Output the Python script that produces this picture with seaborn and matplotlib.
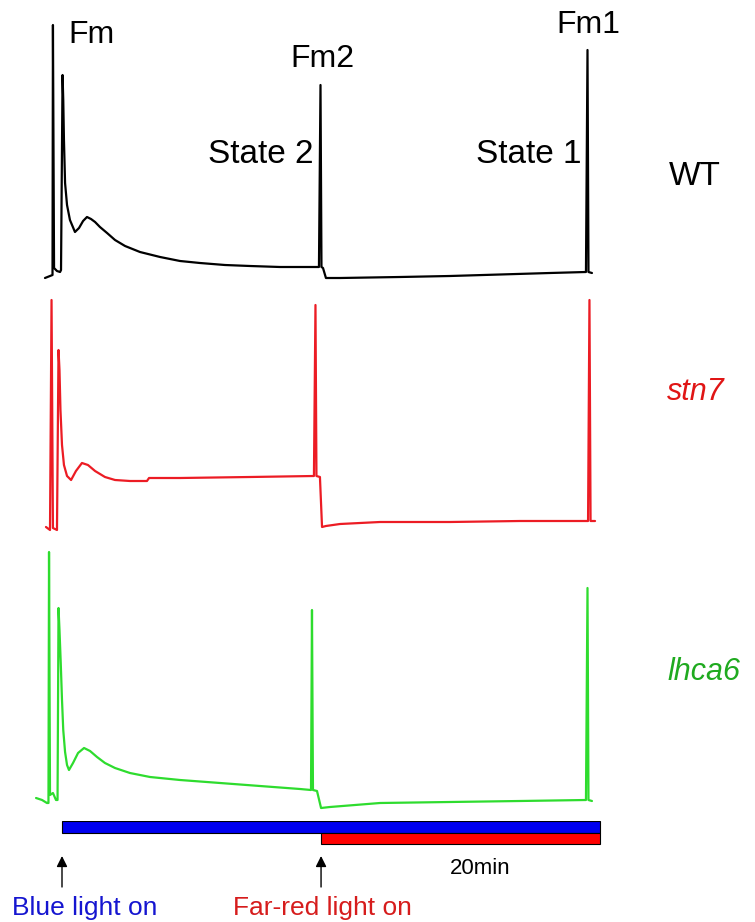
import matplotlib
matplotlib.use("Agg")
import matplotlib.pyplot as plt
import seaborn as sns
import pandas as pd

# ---------------- data (time in min after blue light on, fluorescence a.u.) ----------------
wt_time = [-1.22, -0.86, -0.68, -0.65, -0.57, -0.36, -0.14, -0.07, 0.04, 0.09, 0.14, 0.22,
           0.36, 0.57, 0.93, 1.22, 1.51, 1.79, 2.08, 2.37, 2.72, 3.23, 3.80, 4.52, 5.59,
           7.03, 8.46, 9.89, 11.68, 13.48, 15.63, 18.42, 18.53, 18.60, 18.71, 18.92,
           19.93, 24.23, 27.81, 31.40, 34.98, 37.56, 37.67, 37.74, 37.99]
wt_fluor = [12, 14, 15, 265, 22, 19, 18, 20, 215, 190, 150, 107,
            85, 70, 58, 62, 69, 73, 71, 68, 63, 57, 50, 44, 38,
            33, 29, 27, 25, 24, 23, 23, 205, 23, 22, 12,
            12, 13, 14, 15.5, 17, 18, 240, 18, 17]

stn7_time = [-1.15, -0.86, -0.75, -0.65, -0.36, -0.25, -0.18, -0.11, 0.0, 0.14, 0.36, 0.65,
             1.00, 1.43, 1.86, 2.37, 3.08, 3.80, 4.87, 6.09, 6.24, 8.46, 13.48, 18.06,
             18.17, 18.24, 18.49, 18.64, 18.92, 19.93, 22.80, 27.81, 32.83, 37.71, 37.81,
             37.89, 38.21]
stn7_fluor = [13, 10, 240, 12, 10, 190, 170, 130, 95, 75, 64, 60,
              69, 77, 75, 69, 63, 60, 59, 59, 62, 62, 63, 64,
              235, 64, 63, 13, 14, 16, 18, 18, 19, 19, 240,
              19, 19]

lhca6_time = [-1.86, -1.43, -1.08, -0.97, -0.93, -0.86, -0.65, -0.43, -0.32, -0.25, -0.18,
              -0.09, 0.0, 0.09, 0.22, 0.36, 0.50, 0.79, 1.15, 1.58, 2.01, 2.51, 3.08, 3.80,
              4.87, 6.31, 8.46, 11.33, 14.19, 17.06, 17.85, 17.92, 17.99, 18.28, 18.57,
              19.21, 22.80, 27.81, 32.83, 37.56, 37.67, 37.74, 37.99]
lhca6_fluor = [17, 15, 12, 12, 263, 20, 22, 15, 15, 207, 185,
               152, 115, 85, 63, 50, 45, 52, 62, 67, 64, 58, 52, 47,
               42, 38, 35, 32, 29, 26, 25, 205, 25, 24, 7,
               8, 12, 13, 14, 15, 227, 15, 14]

light_labels = ["Blue light on", "Far-red light on"]
light_start = [0.0, 18.57]
light_end = [38.57, 38.57]
duration_label = "20min"

# ---------------- layout ----------------
sns.set_theme(style="white")
plt.rcParams['font.family'] = ['Liberation Sans', 'DejaVu Sans']
plt.rcParams['text.color'] = 'black'

W, H = 755, 922
PX_PER_MIN = 13.95
X0 = 62
XLIM = (-X0 / PX_PER_MIN, (W - X0) / PX_PER_MIN)

fig = plt.figure(figsize=(W / 100, H / 100), dpi=100)


def band(top, bottom):
    ax = fig.add_axes([0, 1 - bottom / H, 1, (bottom - top) / H])
    ax.set_xlim(*XLIM)
    ax.set_axis_off()
    ax.patch.set_alpha(0)
    return ax


traces = [
    (wt_time, wt_fluor, "#000000", 0, 290),
    (stn7_time, stn7_fluor, "#ec1c24", 290, 540),
    (lhca6_time, lhca6_fluor, "#2edc2e", 540, 815),
]
for t, f, col, top, bot in traces:
    ax = band(top, bot)
    df = pd.DataFrame({"time": t, "F": f})
    sns.lineplot(data=df, x="time", y="F", ax=ax, color=col, lw=1.6,
                 sort=False, estimator=None, legend=False)
    ax.set_ylim(0, bot - top)
    ax.set_xlim(*XLIM)
    for ln in ax.lines:
        ln.set_clip_on(False)
        ln.set_solid_joinstyle("round")

# bottom: light bars, arrows, labels
axb = band(821, 922)
axb.set_ylim(101, 0)
bar_colors = ["#0000f0", "#ff0000"]
bar_y = [6, 17.5]
bar_h = [12, 11]
for s, e, c, y, h in zip(light_start, light_end, bar_colors, bar_y, bar_h):
    axb.barh(y=y, width=e - s, left=s, height=h, color=c, edgecolor="black", lw=0.8)

label_x = [1.65, 18.65]
label_colors = ["#1515d0", "#d61c1c"]
for s, lab, lx, lc in zip(light_start, light_labels, label_x, label_colors):
    axb.annotate("", xy=(s, 35), xytext=(s, 66),
                 arrowprops=dict(arrowstyle="-|>", color="black", lw=1.0,
                                 mutation_scale=16, shrinkA=0, shrinkB=0))
    axb.text(lx, 87, lab, color=lc, fontsize=19, ha="center", va="center")
axb.text(30.0, 47, duration_label, color="black", fontsize=16, ha="center", va="center")


def ftext(x, y, s, **kw):
    fig.text(x / W, 1 - y / H, s, va="baseline", **kw)


ftext(68, 43, "Fm", fontsize=23, ha="left", color="black")
ftext(322, 67, "Fm2", fontsize=23, ha="center", color="black")
ftext(588, 33, "Fm1", fontsize=23, ha="center", color="black")
ftext(313, 163, "State 2", fontsize=24, ha="right", color="black")
ftext(582, 163, "State 1", fontsize=24, ha="right", color="black")
ftext(669, 185, "WT", fontsize=24, ha="left", color="black")
ftext(667, 400, "stn7", fontsize=22, ha="left", color="#e01515", style="italic")
ftext(668, 680, "lhca6", fontsize=22, ha="left", color="#1faa1f", style="italic")

fig.savefig("out.png", dpi=100, facecolor="white")
